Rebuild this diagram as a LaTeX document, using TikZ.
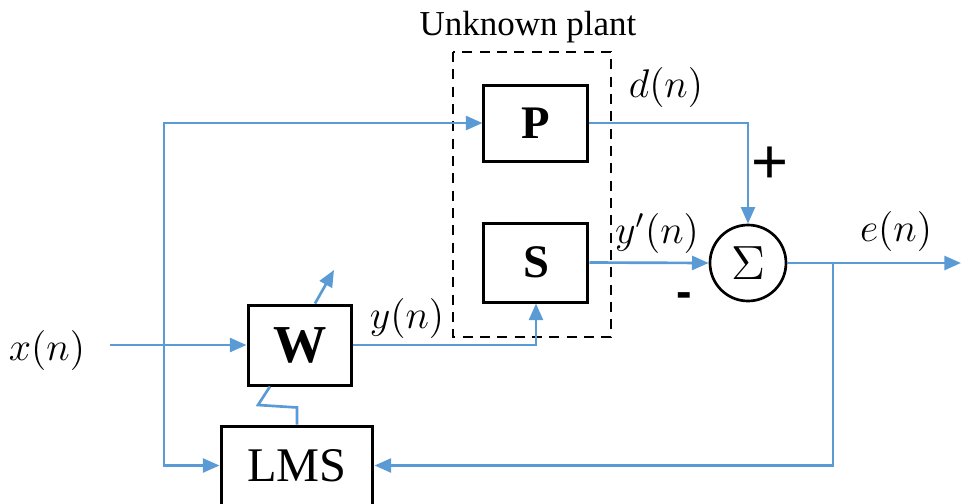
\documentclass[tikz,border=0pt]{standalone}
\usepackage{fontspec}
\setmainfont{Liberation Serif}
\newfontfamily\signfont{Liberation Sans}
\usetikzlibrary{arrows.meta,calc}
\definecolor{wire}{HTML}{5B9BD5}
\begin{document}
\begin{tikzpicture}[x=0.3pt,y=-0.3pt,
  blk/.style={draw=black,line width=0.9pt,rectangle,inner sep=0pt,fill=white},
  sig/.style={draw=wire,line width=0.8pt},
  arr/.style={sig,-{Triangle[length=5pt,width=4.2pt]}},
  lbl/.style={inner sep=0pt,font=\fontsize{11.5}{13}\selectfont}]
\useasboundingbox (0,0) rectangle (961,503);
% unknown plant frame
\draw[line width=0.8pt,dash pattern=on 3pt off 2.2pt] (453,52) rectangle (611,337);
\node[inner sep=0pt,font=\fontsize{10.5}{12}\selectfont] (title) at (528,27) {Unknown plant};
% blocks
\node[blk,minimum width=31.2pt,minimum height=22.8pt,font=\fontsize{14}{16}\selectfont\bfseries] (P) at (536,123) {P};
\node[blk,minimum width=31.2pt,minimum height=23.7pt,font=\fontsize{14}{16}\selectfont\bfseries] (S) at (536,262.5) {S};
\node[blk,minimum width=31.2pt,minimum height=24pt,font=\fontsize{16}{18}\selectfont\bfseries] (W) at (300,345) {W};
\node[blk,minimum width=45.6pt,minimum height=23.7pt,font=\fontsize{14.5}{16}\selectfont] (LMS) at (297,465.5) {LMS};
\node[draw=black,line width=0.8pt,circle,minimum size=22.8pt,inner sep=0pt,font=\fontsize{15}{17}\selectfont] (sum) at (748,263) {$\Sigma$};
% labels
\node[lbl] (xn) at (47,350) {$x(n)$};
\node[lbl] (yn) at (407,318) {$y(n)$};
\node[lbl] (ypn) at (657,233) {$y'(n)$};
\node[lbl] (dn) at (666,87) {$d(n)$};
\node[lbl] (en) at (896,231) {$e(n)$};
\node[inner sep=0pt,font=\signfont\fontsize{19}{20}\selectfont] (plus) at (770,165) {+};
\node[inner sep=0pt,font=\signfont\bfseries\fontsize{14}{16}\selectfont] (minus) at (684,300) {-};
% coordinates
\coordinate (xin) at (110,345);
\coordinate (br) at (164,345);
\coordinate (j) at (833,263);
\coordinate (eout) at (961,263);
\coordinate (wtip) at (334,270);
% connectors
\draw[arr] (xin) -- (W.west);
\draw[arr] (br) |- (P.west);
\draw[arr] (br) |- (LMS.west);
\draw[arr] (W.east) -| (S.south);
\draw[arr] (S.east) -- (sum.west);
\draw[arr] (P.east) -| (sum.north);
\draw[arr] (sum.east) -- (eout);
\draw[arr] (j) |- (LMS.east);
\draw[arr] ($(W.north)+(15,0)$) -- (wtip);
\draw[sig] (LMS.north) -- ($(LMS.north)+(0,-17)$) -- (258,405) -- ($(W.south)+(-30,0)$);
\end{tikzpicture}
\end{document}
